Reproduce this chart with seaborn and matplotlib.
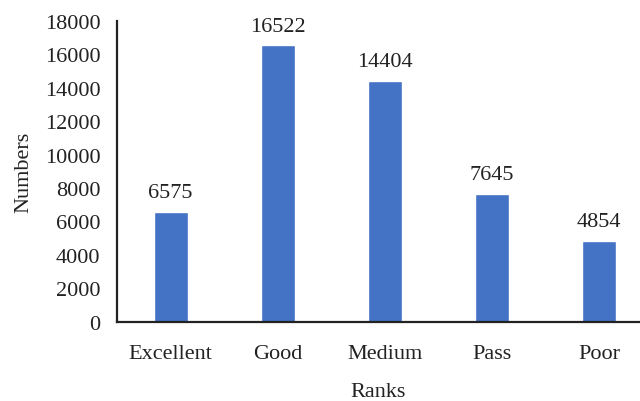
import matplotlib
matplotlib.use("Agg")
import matplotlib.pyplot as plt
import seaborn as sns
import pandas as pd

# ============================================================
# DATA
# ============================================================

ranks = ["Excellent", "Good", "Medium", "Pass", "Poor"]
numbers = [6575, 16522, 14404, 7645, 4854]

df = pd.DataFrame({"Ranks": ranks, "Numbers": numbers})

# ============================================================
# STYLE
# ============================================================

sns.set_style("white")
plt.rcParams["font.family"] = ["Liberation Serif", "DejaVu Serif"]

FS = 16
TXT = "#222222"

fig = plt.figure(figsize=(6.4, 4.02), dpi=100)
ax = fig.add_axes([0.183, 0.197, 0.817, 0.749])

sns.barplot(
    data=df,
    x="Ranks",
    y="Numbers",
    color="#4472C4",
    saturation=1,
    width=0.317,
    ax=ax
)

# value labels
for container in ax.containers:
    ax.bar_label(container, fmt="%d", padding=7, fontsize=FS, color=TXT)

ax.set_ylim(0, 18000)
ax.set_xlim(-0.5, 4.38)
ax.set_yticks(range(0, 18001, 2000))

ax.tick_params(axis="both", length=0, labelsize=FS, colors=TXT)
ax.tick_params(axis="y", pad=12)
ax.tick_params(axis="x", pad=16)

ax.set_xlabel("Ranks", fontsize=FS, color=TXT, labelpad=14)
ax.set_ylabel("Numbers", fontsize=FS, color=TXT, labelpad=8)

for side in ["top", "right"]:
    ax.spines[side].set_visible(False)
for side in ["left", "bottom"]:
    ax.spines[side].set_linewidth(1.6)
    ax.spines[side].set_color(TXT)

fig.savefig("out.png", dpi=100)
